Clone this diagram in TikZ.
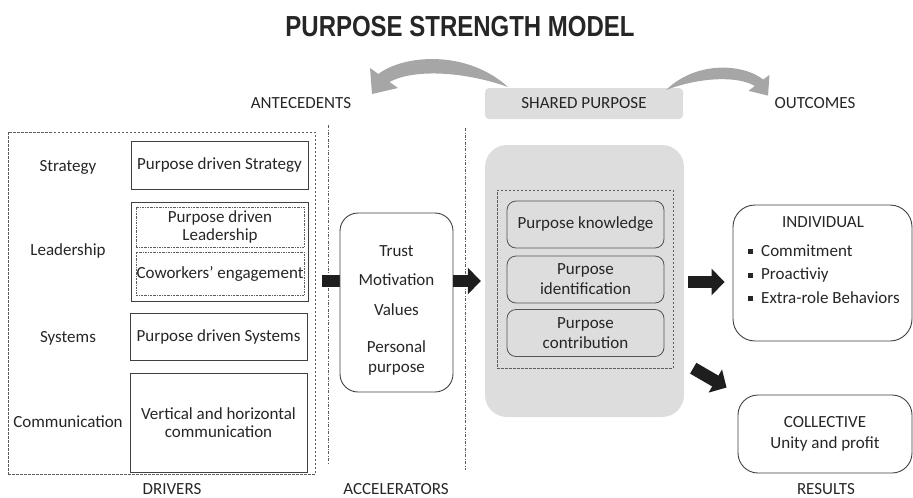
\documentclass[tikz,border=0pt]{standalone}
\usepackage{graphicx}
\usepackage{fontspec}
\setmainfont{Carlito}
\newfontfamily\titlefont{Liberation Sans}
\usetikzlibrary{arrows.meta}
\definecolor{txt}{HTML}{262626}
\definecolor{edge}{HTML}{404040}
\definecolor{lgray}{HTML}{DDDDDD}
\definecolor{agray}{HTML}{A6A6A6}
\definecolor{blk}{HTML}{1E1E1E}
\begin{document}
\begin{tikzpicture}[x=1pt,y=-1pt,
  font=\fontsize{17}{18.5}\selectfont, text=txt,
  lbl/.style={anchor=base, inner sep=0pt},
  box/.style={draw=edge, line width=0.9pt, inner sep=0pt, align=center},
  ddbox/.style={draw=edge!85, line width=0.7pt, dash pattern=on 2pt off 1pt on 0.6pt off 1pt, inner sep=0pt, align=center},
  outerdash/.style={draw=edge!85, line width=0.8pt, dash pattern=on 2.5pt off 1.5pt, inner sep=0pt},
  sepline/.style={draw=edge!85, line width=0.8pt, dash pattern=on 3pt off 1.5pt on 0.8pt off 1.5pt},
  rbox/.style={draw=edge, line width=0.9pt, fill=white, inner sep=0pt, align=center},
  spbox/.style={draw=edge!90, fill=lgray, line width=0.8pt, rounded corners=9pt, inner sep=0pt, align=center,
     minimum width=157pt, minimum height=47pt, font=\fontsize{17}{20}\selectfont},
  blockarr/.style={draw=blk, line width=12.5pt, -{Triangle[width=26pt,length=13pt]}},
  curvarr/.style={fill=agray}
]
\useasboundingbox (0,0) rectangle (913,498);

% title
\node[lbl, font=\titlefont\bfseries\fontsize{29}{30}\selectfont] (title) at (460,36) {\scalebox{0.827}[1]{PURPOSE STRENGTH MODEL}};

% top labels
\node[fill=lgray, rounded corners=4pt, minimum width=198pt, minimum height=31pt, inner sep=0pt] (splab) at (584,103.5) {SHARED PURPOSE};
\node[lbl] (ante) at (301,108.5) {ANTECEDENTS};
\node[lbl] (outc) at (815,108.5) {OUTCOMES};

% curved arrows
\begin{scope}[shift={(508,87)}]
  \fill[curvarr] (0,0) .. controls (-42,-38) and (-105,-32) .. (-129.6,-13) -- (-138,-19) -- (-136,7) -- (-110,1) -- (-118.4,-5) .. controls (-95,-18) and (-45,-16) .. (0,0) -- cycle;
\end{scope}
\begin{scope}[shift={(666,90)}, xscale=-0.75, yscale=0.8]
  \fill[curvarr] (0,0) .. controls (-42,-38) and (-105,-32) .. (-129.6,-13) -- (-138,-19) -- (-136,7) -- (-110,1) -- (-118.4,-5) .. controls (-95,-18) and (-45,-16) .. (0,0) -- cycle;
\end{scope}

% drivers
\node[outerdash, minimum width=307pt, minimum height=342pt] (drv) at (161.5,303) {};
\node[box, minimum width=177pt, minimum height=48pt] (strat) at (219.5,165) {Purpose driven Strategy};
\node[box, minimum width=177pt, minimum height=99pt] (lead) at (219.5,251.5) {};
\node[ddbox, minimum width=168pt, minimum height=40pt] (lead1) at (220,227) {Purpose driven\\Leadership};
\node[ddbox, minimum width=168pt, minimum height=43pt] (lead2) at (220,273.5) {Coworkers’ engagement};
\node[box, minimum width=177pt, minimum height=47pt] (sys) at (218.5,336.5) {Purpose driven Systems};
\node[box, minimum width=177pt, minimum height=99pt] (comm) at (218.5,422.5) {Vertical and horizontal\\communication};
\node[lbl] (lstrat) at (68,171) {Strategy};
\node[lbl] (llead) at (68,255) {Leadership};
\node[lbl] (lsys) at (68,342) {Systems};
\node[lbl] (lcomm) at (68,427) {Communication};
\node[lbl] (drvlab) at (172,494) {DRIVERS};

% separators
\draw[sepline] (328,125) -- (328,463);
\draw[sepline] (465,128) -- (465,470);

% shared purpose block
\node[fill=lgray, rounded corners=22pt, minimum width=199pt, minimum height=272pt, inner sep=0pt] (spbig) at (584.5,281) {};
\node[outerdash, minimum width=176pt, minimum height=178pt] (spin) at (585,279) {};
\node[spbox] (pk) at (585.5,224.5) {Purpose knowledge};
\node[spbox] (pi) at (585.5,279.5) {Purpose\\identification};
\node[spbox] (pc) at (585.5,333) {Purpose\\contribution};

% block arrows (bar behind accelerators)
\draw[blk, line width=12.5pt] ([xshift=7pt]drv.east |- spbig.west) -- ([xshift=10pt]drv.east |- spbig.west) -- (396,281);

% accelerators
\node[rbox, rounded corners=18pt, minimum width=113pt, minimum height=179pt] (acc) at (396.5,302.5) {};
\node[lbl] (t1) at (396.5,256) {Trust};
\node[lbl] (t2) at (396.5,285) {Motivation};
\node[lbl] (t3) at (396.5,315) {Values};
\node[lbl] (t4) at (396.5,352) {Personal};
\node[lbl] (t5) at (396.5,372) {purpose};
\node[lbl] (acclab) at (396,494) {ACCELERATORS};

\draw[blockarr] (acc.east |- spbig.west) -- ([xshift=-4pt]spbig.west);

% outcomes
\node[rbox, rounded corners=22pt, minimum width=179pt, minimum height=136pt] (indiv) at (822.5,273) {};
\node[lbl] (ih) at (823,227) {INDIVIDUAL};
\node[lbl, anchor=base west] (b1) at (761,256) {Commitment};
\node[lbl, anchor=base west] (b2) at (761,279.5) {Proactiviy};
\node[lbl, anchor=base west] (b3) at (761,303) {Extra-role Behaviors};
\fill[txt] (747.5,249) rectangle +(5,5);
\fill[txt] (747.5,272.5) rectangle +(5,5);
\fill[txt] (747.5,296) rectangle +(5,5);

\node[rbox, rounded corners=20pt, minimum width=174pt, minimum height=78pt, font=\fontsize{17}{21.5}\selectfont] (coll) at (825,434) {COLLECTIVE\\Unity and profit};
\node[lbl] (reslab) at (826,494) {RESULTS};

\draw[blockarr] ([xshift=4pt]spbig.east |- indiv.west) ++(0,9) coordinate (ia) (ia) -- ([xshift=-8pt]indiv.west |- ia);
\draw[blockarr] ([shift={(9,-49)}]spbig.south east) -- ([shift={(-11,-7)}]coll.north west);
\end{tikzpicture}
\end{document}
